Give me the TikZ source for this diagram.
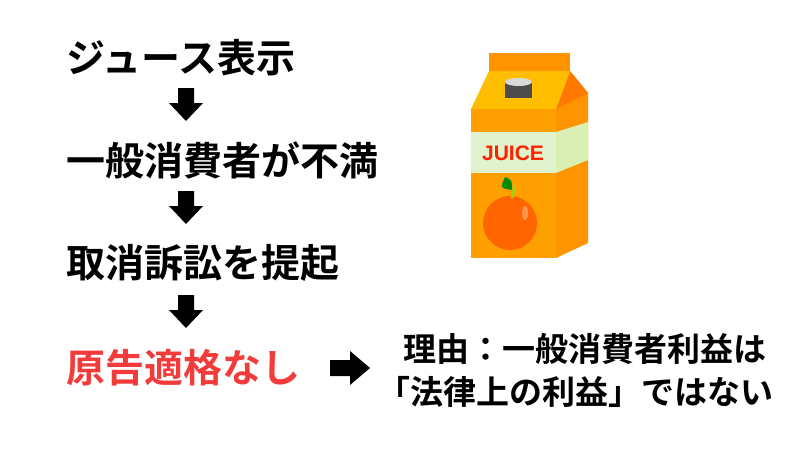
\documentclass[tikz,border=0pt]{standalone}
\usepackage{fontspec}
\newfontfamily\jp{Noto Sans CJK JP Bold}
\begin{document}
\begin{tikzpicture}[x=1pt,y=-1pt,
  big/.style={font=\jp\fontsize{39}{42}\selectfont,anchor=west,inner sep=0},
  small/.style={font=\jp\fontsize{33}{36}\selectfont,anchor=west,inner sep=0}]
\useasboundingbox (0,0) rectangle (800,450);
\definecolor{rd}{HTML}{F23B3B}
\node[big] (t1) at (66,58) {ジュース表示};
\node[big] (t2) at (66,160) {一般消費者が不満};
\node[big] (t3) at (66,263) {取消訴訟を提起};
\node[big,text=rd] (t4) at (66,368) {原告適格なし};
\node[small] (r1) at (403,349) {理由：一般消費者利益は};
\node[small] (r2) at (377,392) {「法律上の利益」ではない};
\coordinate (a1) at (186,104);
\coordinate (a2) at (186,207);
\coordinate (a3) at (186,311);
\coordinate (a4) at (350,368);
\foreach \a in {a1,a2,a3}
  \fill[black] ([shift={(-8,-16)}]\a) -- ++(16,0) -- ++(0,15) -- ++(9,0) -- ([shift={(0,17)}]\a) -- ([shift={(-17,-1)}]\a) -- ++(9,0) -- cycle;
\fill[black] ([shift={(-20,-8)}]a4) -- ++(20,0) -- ++(0,-9) -- ([shift={(20,0)}]a4) -- ([shift={(0,17)}]a4) -- ++(0,-9) -- ++(-20,0) -- cycle;
% carton
\fill[orange!85!yellow] (489,53) rectangle (570,72);
\fill[orange!85!yellow] (556,109) -- (570,71) -- (588,93) -- (588,243) -- (556,258) -- cycle;
\fill[orange!95!red] (570,71) -- (588,93) -- (556,109) -- cycle;
\fill[orange!50!yellow] (471,109) -- (489,71) -- (570,71) -- (556,109) -- cycle;
\fill[orange!75!yellow] (471,109) rectangle (556,258);
\fill[yellow!40!green!20!white] (471,132) rectangle (556,173);
\fill[yellow!50!green!30!white] (556,132) -- (588,122) -- (588,160) -- (556,173) -- cycle;
\fill[black!70] (505,82) rectangle (532,98);
\fill[gray!30] (518.5,82) ellipse (13.5 and 4);
\node[font=\fontspec{Liberation Sans}\bfseries\fontsize{21}{21}\selectfont,text=red!75!orange] (ju) at (513,153) {JUICE};
\fill[orange!80!red] (510,223) circle (27);
\fill[white,opacity=0.3] (525,213) ellipse (3 and 7);
\draw[yellow!60!green,line width=2.5pt] (512,198) -- (515,185);
\fill[green!55!black] (512,190) .. controls (500,188) .. (505,177) .. controls (512,180) .. (512,190);
\end{tikzpicture}
\end{document}
